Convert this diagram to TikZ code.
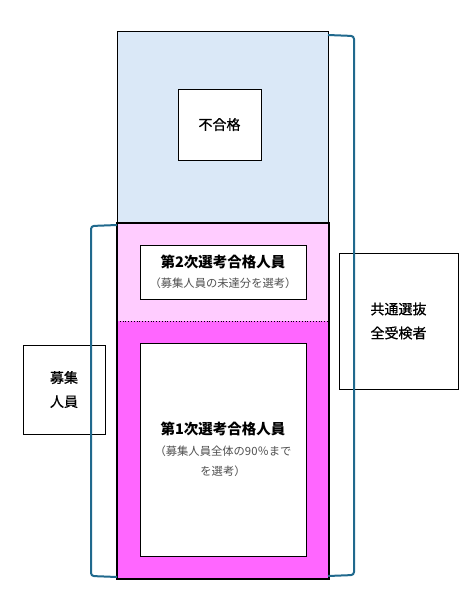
\documentclass[tikz,border=0pt]{standalone}
\usepackage{fontspec}
\newfontfamily\jp{Noto Sans CJK JP}
\newfontfamily\jpmed[FakeBold=0.7]{Noto Sans CJK JP}
\definecolor{failblue}{HTML}{DAE8F7}
\definecolor{lightpink}{HTML}{FFCCFF}
\definecolor{magentafill}{HTML}{FF66FF}
\definecolor{bracecol}{HTML}{20698D}
\definecolor{subgray}{HTML}{505050}
\tikzset{
  region/.style={draw=black, line width=0.8pt, anchor=north west, inner sep=0pt, minimum width=211pt},
  whitebox/.style={draw=black, line width=0.8pt, fill=white, inner sep=0pt, align=center, font=\jpmed\fontsize{14}{24}\selectfont},
  bracket/.style={draw=bracecol, line width=2pt, rounded corners=3pt},
}
\newcommand{\ttl}[1]{{\jp\bfseries\fontsize{14.5}{18}\selectfont #1}}
\newcommand{\sbt}[1]{{\jp\color{subgray}\fontsize{11.3}{19}\selectfont #1}}
\begin{document}
\begin{tikzpicture}[x=1pt,y=-1pt]
\useasboundingbox (0,0) rectangle (471,600);
% column regions
\node[region, fill=failblue, minimum height=192pt] (failzone) at (117,31) {};
\node[region, draw=none, fill=lightpink, minimum height=98pt] (secondzone) at (117,223) {};
\node[region, draw=none, fill=magentafill, minimum height=257pt] (firstzone) at (117,321) {};
\draw[black, line width=0.8pt, dotted] (secondzone.south west) -- (secondzone.south east);
\draw[black, line width=2.5pt] (secondzone.north west) rectangle (firstzone.south east);
% inner boxes
\node[whitebox, minimum width=83pt, minimum height=71pt] (fail) at (219.5,124.5) {不合格};
\node[whitebox, minimum width=166pt, minimum height=54pt] (second) at (223,272)
  {\ttl{第2次選考合格人員}\\[-4pt]\sbt{（募集人員の未達分を選考）}};
\node[whitebox, minimum width=166pt, minimum height=213pt] (first) at (223,449.5)
  {\ttl{第1次選考合格人員}\\[-3pt]\sbt{（募集人員全体の90％まで}\\[-4pt]\sbt{を選考）}};
% side labels
\node[whitebox, minimum width=82pt, minimum height=89pt] (quota) at (64,389.5) {募集\\人員};
\node[whitebox, minimum width=119pt, minimum height=136pt] (all) at (398.5,321) {共通選抜\\全受検者};
% brackets
\coordinate (lt) at (117,225);
\coordinate (lb) at (117,577);
\coordinate (rt) at (328,35);
\coordinate (rb) at (328,576);
\draw[bracket] (lt) -- (91,226) -- (91,576) -- (lb);
\draw[bracket] (rt) -- (354,36) -- (354,575) -- (rb);
\end{tikzpicture}
\end{document}
